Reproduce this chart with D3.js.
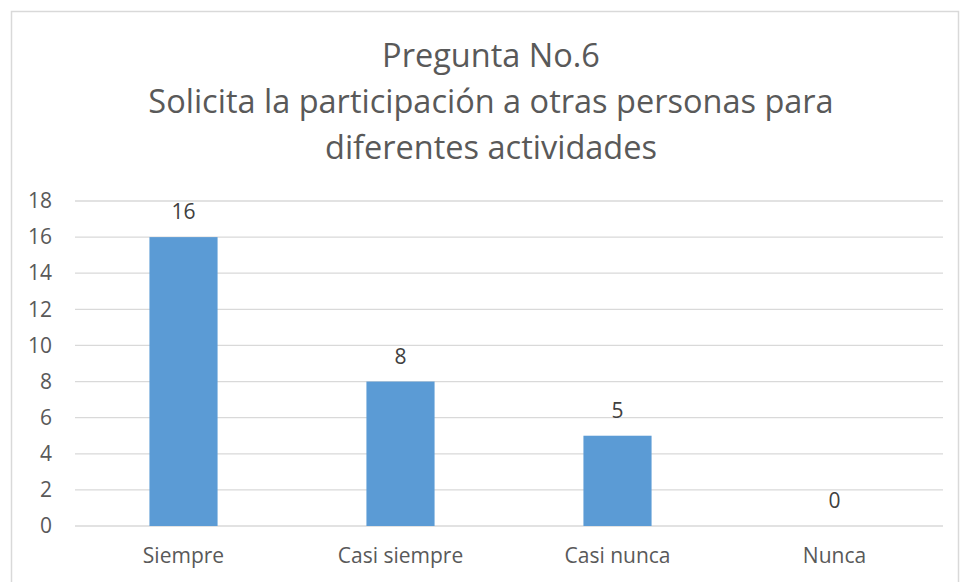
<!DOCTYPE html>
<html>
<head>
<meta charset="utf-8">
<script src="https://cdn.jsdelivr.net/npm/d3@7"></script>
<style>
  body { margin: 0; background: #fff; }
  text { font-family: "Open Sans", "Noto Sans", sans-serif; fill: #595959; }
</style>
</head>
<body>
<svg id="chart" width="960" height="582"></svg>
<script>
const categories = ["Siempre", "Casi siempre", "Casi nunca", "Nunca"];
const values = [16, 8, 5, 0];
const yTicks = [0, 2, 4, 6, 8, 10, 12, 14, 16, 18];
const titleLines = [
  "Pregunta No.6",
  "Solicita la participación a otras personas para",
  "diferentes actividades"
];

const margin = { left: 75, right: 17, top: 201, bottom: 56 };
const chartSize = { width: 960, height: 582 };
const width = chartSize.width - margin.left - margin.right;
const height = chartSize.height - margin.top - margin.bottom;

const svg = d3.select("#chart");

// outer frame
svg.append("rect")
  .attr("x", 11.5).attr("y", 11.5)
  .attr("width", 947).attr("height", 580)
  .attr("fill", "none")
  .attr("stroke", "#d9d9d9")
  .attr("stroke-width", 1.5);

svg.append("g")
  .selectAll("text")
  .data(titleLines)
  .join("text")
  .attr("x", 491)
  .attr("y", (d, i) => 67 + i * 46)
  .attr("text-anchor", "middle")
  .style("font-size", "32.5px")
  .text(d => d);

const g = svg.append("g")
  .attr("transform", `translate(${margin.left}, ${margin.top})`);

const x = d3.scaleBand().domain(categories).range([0, width]);
const y = d3.scaleLinear().domain([0, 18]).range([height, 0]);

const barWidth = x.bandwidth() * 0.314;

// gridlines
g.append("g")
  .selectAll("line")
  .data(yTicks)
  .join("line")
  .attr("x1", 0).attr("x2", width)
  .attr("y1", d => y(d)).attr("y2", d => y(d))
  .attr("stroke", "#d9d9d9")
  .attr("stroke-width", 1.3);

const yAxis = d3.axisLeft(y).tickValues(yTicks).tickSize(0).tickPadding(23);
g.append("g").call(yAxis)
  .call(a => a.select(".domain").remove())
  .selectAll("text")
  .style("font-size", "21px")
  .style("fill", "#595959");

const xAxis = d3.axisBottom(x).tickSize(0).tickPadding(22);
g.append("g")
  .attr("transform", `translate(0, ${height})`)
  .call(xAxis)
  .call(a => a.select(".domain").remove())
  .selectAll("text")
  .style("font-size", "21px")
  .style("fill", "#595959");

const data = categories.map((c, i) => ({ c, v: values[i] }));

g.append("g")
  .selectAll("rect")
  .data(data)
  .join("rect")
  .attr("x", d => x(d.c) + (x.bandwidth() - barWidth) / 2)
  .attr("y", d => y(d.v))
  .attr("width", barWidth)
  .attr("height", d => height - y(d.v))
  .attr("fill", "#5b9bd5");

g.append("g")
  .selectAll("text")
  .data(data)
  .join("text")
  .attr("x", d => x(d.c) + x.bandwidth() / 2)
  .attr("y", d => y(d.v) - 18)
  .attr("text-anchor", "middle")
  .style("font-size", "21px")
  .style("fill", "#404040")
  .text(d => d.v);
</script>
</body>
</html>
